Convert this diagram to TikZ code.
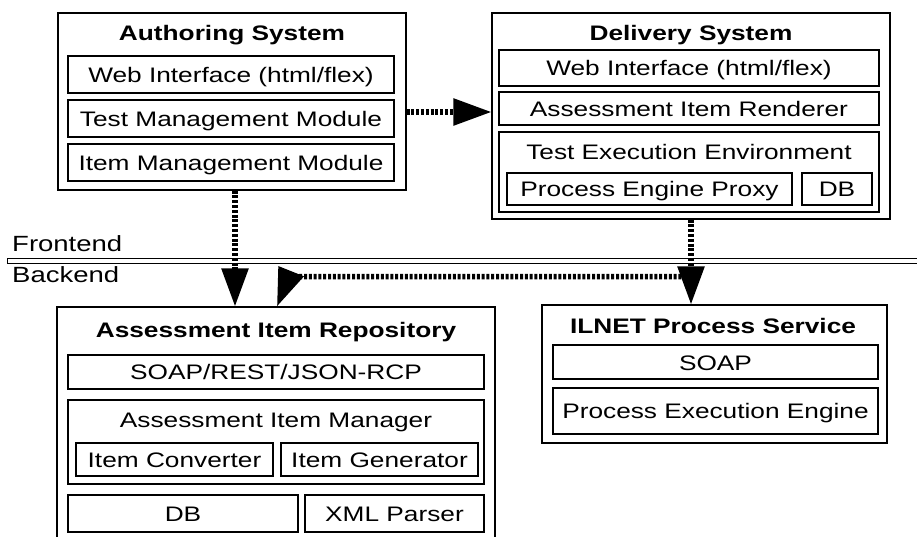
\documentclass[tikz,border=0pt]{standalone}
\usepackage{fontspec}
\setmainfont{Liberation Sans}[FakeStretch=1.25]
\usetikzlibrary{arrows.meta}
\begin{document}
\begin{tikzpicture}[x=1pt,y=-1pt,
  box/.style={draw, line width=1.1pt, inner sep=0pt, text height=15pt, text depth=0pt, font=\fontsize{21}{25}\selectfont},
  ttl/.style={inner sep=0pt, text height=15pt, text depth=0pt, font=\fontsize{21}{25}\selectfont\bfseries},
  lbl/.style={inner sep=0pt, text height=15pt, text depth=0pt, font=\fontsize{21}{25}\selectfont},
  side/.style={inner sep=0pt, anchor=base west, font=\fontsize{22}{26}\selectfont},
  dotarrow/.style={line width=5.5pt, dash pattern=on 3pt off 1.8pt, -{Triangle[length=38pt,width=26pt]}}
]
\useasboundingbox (0,0) rectangle (917,536);

% Authoring System
\node[box, minimum width=348pt, minimum height=177pt] (auth) at (232,101.5) {};
\node[ttl] (authT) at (232,33) {Authoring System};
\node[box, minimum width=326pt, minimum height=37pt] (aw) at (231,74.5) {Web Interface (html/flex)};
\node[box, minimum width=326pt, minimum height=37pt] (at) at (231,118.5) {Test Management Module};
\node[box, minimum width=326pt, minimum height=37pt] (ai) at (231,162.5) {Item Management Module};

% Delivery System
\node[box, minimum width=398pt, minimum height=206pt] (dlv) at (691,116) {};
\node[ttl] (dlvT) at (691,33) {Delivery System};
\node[box, minimum width=380pt, minimum height=36pt] (dw) at (689,68) {Web Interface (html/flex)};
\node[box, minimum width=380pt, minimum height=33pt] (dr) at (689,108.5) {Assessment Item Renderer};
\node[box, minimum width=380pt, minimum height=80pt] (de) at (689,172) {};
\node[lbl] (deT) at (689,151.5) {Test Execution Environment};
\node[box, minimum width=285pt, minimum height=32pt] (dp) at (649.5,189) {Process Engine Proxy};
\node[box, minimum width=70pt, minimum height=32pt] (ddb) at (837,189) {DB};

% Frontend / Backend separator
\node[draw, line width=1.1pt, inner sep=0pt, minimum width=925pt, minimum height=5pt, anchor=north west] (sep) at (7,258) {};
\node[side] (fe) at (12,251) {Frontend};
\node[side] (be) at (12,282) {Backend};

% Assessment Item Repository
\node[box, minimum width=438pt, minimum height=238pt] (repo) at (276,426) {};
\node[ttl] (repoT) at (276,330) {Assessment Item Repository};
\node[box, minimum width=416pt, minimum height=34pt] (rs) at (276,372) {SOAP/REST/JSON-RCP};
\node[box, minimum width=416pt, minimum height=84pt] (rm) at (276,442) {};
\node[lbl] (rmT) at (276,420) {Assessment Item Manager};
\node[box, minimum width=197pt, minimum height=33pt] (rc) at (174.5,459.5) {Item Converter};
\node[box, minimum width=197pt, minimum height=33pt] (rg) at (379.5,459.5) {Item Generator};
\node[box, minimum width=230pt, minimum height=37pt] (rdb) at (183,513.5) {DB};
\node[box, minimum width=179pt, minimum height=37pt] (rx) at (394.5,513.5) {XML Parser};

% ILNET Process Service
\node[box, minimum width=345pt, minimum height=138pt] (il) at (714.5,374) {};
\node[ttl] (ilT) at (713,325.5) {ILNET Process Service};
\node[box, minimum width=325pt, minimum height=34pt, text height=17pt] (is) at (715.5,362) {SOAP};
\node[box, minimum width=325pt, minimum height=46pt] (ip) at (715.5,411) {Process Execution Engine};

% Connectors
\coordinate (h1) at ([yshift=-10.5pt]auth.east);
\draw[dotarrow] (h1) -- (h1 -| dlv.west);

\coordinate (v1) at ([xshift=3pt]auth.south);
\draw[dotarrow] (v1) -- (v1 |- repo.north);

\draw[dotarrow] (dlv.south) -- (dlv.south |- il.north);

\path (dlv.south) ++(0,57) coordinate (j);
\coordinate (b) at ([xshift=13pt]repo.north);
\draw[dotarrow] (j) -- (j -| b) -- ([xshift=1pt]repo.north);
\end{tikzpicture}
\end{document}
